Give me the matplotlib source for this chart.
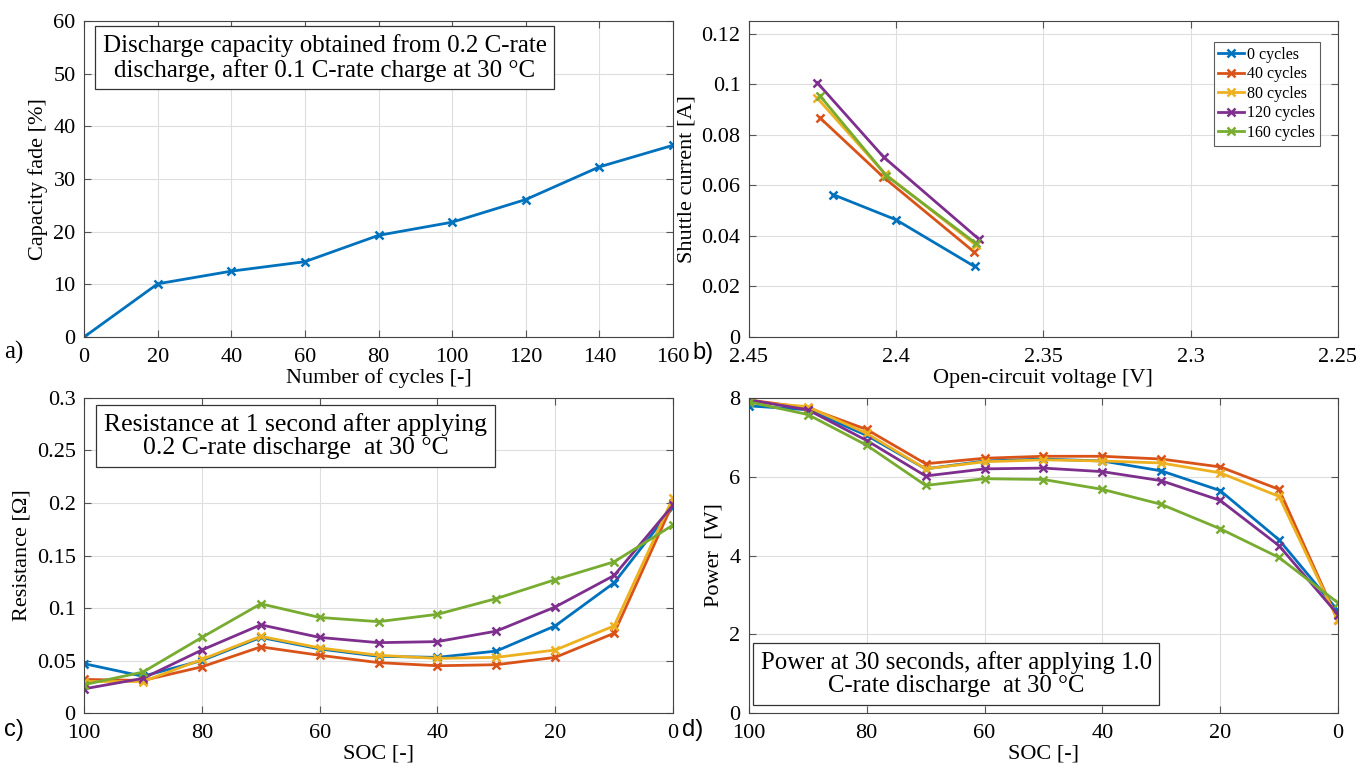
import matplotlib.pyplot as plt
from matplotlib.ticker import FuncFormatter

plt.rcParams['font.family'] = ['Liberation Serif', 'DejaVu Serif']

# MATLAB default line colours
colors = ['#0072BD', '#D95319', '#EDB120', '#7E2F8E', '#77AC30']
series_names = ['0 cycles', '40 cycles', '80 cycles', '120 cycles', '160 cycles']

# a) capacity fade vs cycle number
cycles = [0, 20, 40, 60, 80, 100, 120, 140, 160]
capacity_fade = [0, 10.1, 12.5, 14.3, 19.3, 21.8, 26.1, 32.3, 36.4]

# b) shuttle current vs open-circuit voltage
ocv = [
    [2.4214, 2.4001, 2.3734],
    [2.4258, 2.4045, 2.3737],
    [2.4268, 2.4038, 2.3730],
    [2.4268, 2.4042, 2.3718],
    [2.4258, 2.4033, 2.3730],
]
shuttle = [
    [0.0563, 0.0464, 0.0279],
    [0.0866, 0.0634, 0.0338],
    [0.0945, 0.0645, 0.0364],
    [0.1006, 0.0711, 0.0386],
    [0.0953, 0.0638, 0.0371],
]

# c) and d) share the SOC axis
soc = [100, 90, 80, 70, 60, 50, 40, 30, 20, 10, 0]
resistance = [
    [0.047, 0.035, 0.050, 0.072, 0.061, 0.054, 0.053, 0.059, 0.083, 0.124, 0.196],
    [0.032, 0.031, 0.044, 0.063, 0.055, 0.048, 0.045, 0.046, 0.053, 0.076, 0.200],
    [0.030, 0.030, 0.051, 0.073, 0.062, 0.055, 0.052, 0.053, 0.060, 0.083, 0.205],
    [0.023, 0.033, 0.060, 0.084, 0.072, 0.067, 0.068, 0.078, 0.101, 0.131, 0.198],
    [0.027, 0.039, 0.072, 0.104, 0.091, 0.087, 0.094, 0.109, 0.127, 0.144, 0.179],
]
power = [
    [7.80, 7.70, 7.05, 6.20, 6.40, 6.45, 6.40, 6.15, 5.65, 4.40, 2.60],
    [7.95, 7.75, 7.20, 6.33, 6.47, 6.52, 6.52, 6.45, 6.25, 5.68, 2.35],
    [7.90, 7.78, 7.10, 6.20, 6.38, 6.43, 6.40, 6.35, 6.10, 5.50, 2.35],
    [7.95, 7.70, 6.92, 6.02, 6.20, 6.22, 6.13, 5.90, 5.40, 4.25, 2.50],
    [7.90, 7.58, 6.80, 5.78, 5.95, 5.93, 5.68, 5.30, 4.68, 3.95, 2.80],
]

fig = plt.figure(figsize=(13.58, 7.71), dpi=100)
ax_a = fig.add_axes([0.0619, 0.5629, 0.4337, 0.4099])
ax_b = fig.add_axes([0.5515, 0.5629, 0.4337, 0.4099])
ax_c = fig.add_axes([0.0619, 0.0752, 0.4337, 0.4086])
ax_d = fig.add_axes([0.5515, 0.0752, 0.4337, 0.4086])

fmt = FuncFormatter(lambda v, p: '%g' % round(v, 4))


def matlab_style(ax):
    ax.grid(True, color='#dedede', linewidth=0.8)
    ax.set_axisbelow(True)
    ax.tick_params(direction='in', top=True, right=True, labelsize=16,
                   length=5, color='#555555', pad=6)
    ax.tick_params(axis='x', pad=8)
    for s in ax.spines.values():
        s.set_color('#444444')
        s.set_linewidth(0.8)
    ax.xaxis.set_major_formatter(fmt)
    ax.yaxis.set_major_formatter(fmt)


def note(ax, x, y, txt, size=18):
    ax.text(x, y, txt, transform=ax.transAxes, fontsize=size, ha='center',
            va='center', linespacing=1.1,
            bbox=dict(boxstyle='square,pad=0.3', fc='white', ec='#333333', lw=0.9))


lw = 2.0
ms = 6

# a)
ax_a.plot(cycles, capacity_fade, '-x', color=colors[0], lw=lw, ms=ms, mew=1.8)
ax_a.set_xlim(0, 160)
ax_a.set_ylim(0, 60)
ax_a.set_xticks(range(0, 161, 20))
ax_a.set_yticks(range(0, 61, 10))
ax_a.set_xlabel('Number of cycles [-]', fontsize=16, labelpad=1)
ax_a.set_ylabel('Capacity fade [%]', fontsize=16, labelpad=4)
matlab_style(ax_a)
note(ax_a, 0.409, 0.884, 'Discharge capacity obtained from 0.2 C-rate\ndischarge, after 0.1 C-rate charge at 30 °C')

# b)
for i in range(5):
    ax_b.plot(ocv[i], shuttle[i], '-x', color=colors[i], lw=lw, ms=ms, mew=1.8,
              label=series_names[i])
ax_b.set_xlim(2.45, 2.25)
ax_b.set_ylim(0, 0.125)
ax_b.set_xticks([2.45, 2.4, 2.35, 2.3, 2.25])
ax_b.set_yticks([0, 0.02, 0.04, 0.06, 0.08, 0.1, 0.12])
ax_b.set_xlabel('Open-circuit voltage [V]', fontsize=16, labelpad=1)
ax_b.set_ylabel('Shuttle current [A]', fontsize=16, labelpad=4)
matlab_style(ax_b)
leg = ax_b.legend(loc='upper right', bbox_to_anchor=(0.983, 0.959), fontsize=11.5,
                  handlelength=1.6, handletextpad=0.2, labelspacing=0.22,
                  borderpad=0.3, fancybox=False, edgecolor='#333333')
leg.get_frame().set_linewidth(0.8)

# c)
for i in range(5):
    ax_c.plot(soc, resistance[i], '-x', color=colors[i], lw=lw, ms=ms, mew=1.8)
ax_c.set_xlim(100, 0)
ax_c.set_ylim(0, 0.3)
ax_c.set_xticks([100, 80, 60, 40, 20, 0])
ax_c.set_yticks([0, 0.05, 0.1, 0.15, 0.2, 0.25, 0.3])
ax_c.set_xlabel('SOC [-]', fontsize=16, labelpad=1)
ax_c.set_ylabel('Resistance [Ω]', fontsize=16, labelpad=4)
matlab_style(ax_c)
note(ax_c, 0.359, 0.879, 'Resistance at 1 second after applying\n0.2 C-rate discharge  at 30 °C', 18.5)

# d)
for i in range(5):
    ax_d.plot(soc, power[i], '-x', color=colors[i], lw=lw, ms=ms, mew=1.8)
ax_d.set_xlim(100, 0)
ax_d.set_ylim(0, 8)
ax_d.set_xticks([100, 80, 60, 40, 20, 0])
ax_d.set_yticks([0, 2, 4, 6, 8])
ax_d.set_xlabel('SOC [-]', fontsize=16, labelpad=1)
ax_d.set_ylabel('Power  [W]', fontsize=16, labelpad=4)
matlab_style(ax_d)
note(ax_d, 0.352, 0.124, 'Power at 30 seconds, after applying 1.0\nC-rate discharge  at 30 °C', 17.8)

# panel letters
fig.text(0.003, 0.535, 'a)', fontsize=18)
for x, y, s in [(0.510, 0.535, 'b)'), (0.003, 0.046, 'c)'), (0.502, 0.046, 'd)')]:
    fig.text(x, y, s, fontsize=17, family=['Liberation Sans', 'DejaVu Sans'])

fig.savefig('out.png', dpi=100)
